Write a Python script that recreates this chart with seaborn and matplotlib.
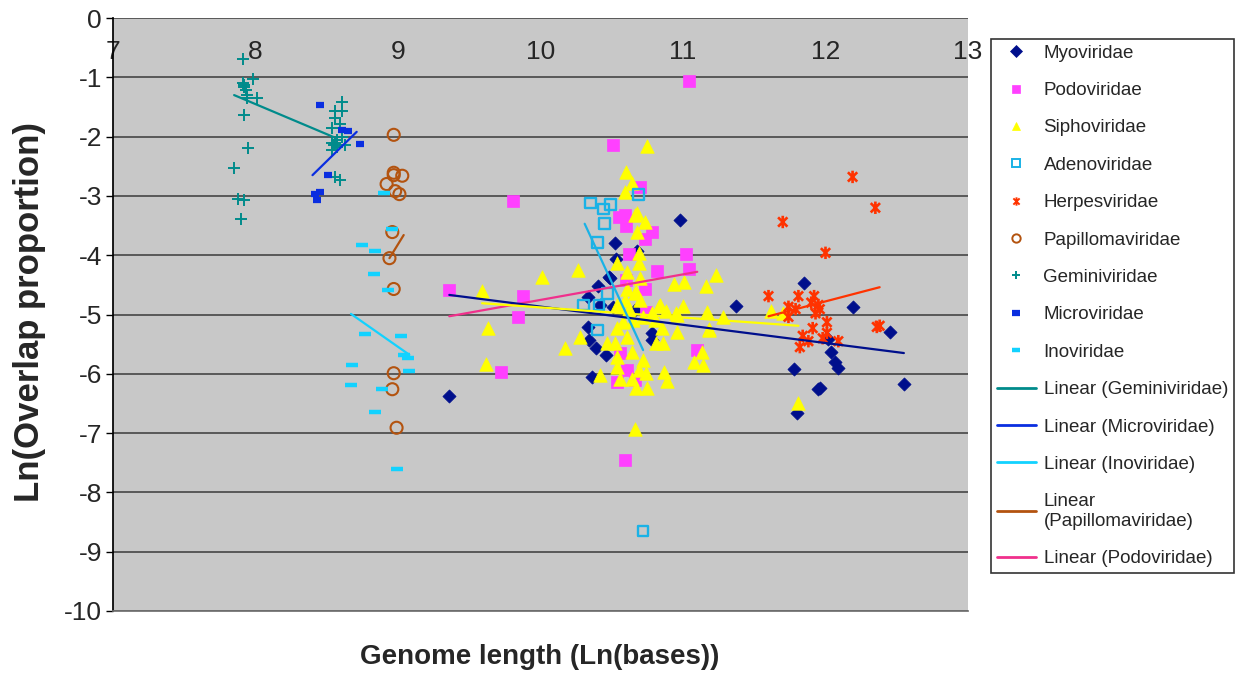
import numpy as np
import pandas as pd
import matplotlib
matplotlib.use("Agg")
import matplotlib.pyplot as plt
from matplotlib.lines import Line2D
from matplotlib.path import Path
import seaborn as sns

# ---- data (x = Ln(bases), y = Ln(overlap proportion)) ----
myo_x = [9.36, 10.40, 10.48, 10.33, 10.42, 10.51, 10.33, 10.34, 10.39, 10.46, 10.36, 10.98, 10.52,
         10.53, 10.49, 10.68, 10.78, 10.78, 10.66, 11.85, 11.37, 12.19, 12.45, 12.02, 12.04, 12.07,
         12.09, 11.78, 11.96, 11.95, 12.55, 11.80]
myo_y = [-6.37, -4.52, -4.37, -4.70, -4.84, -4.88, -5.21, -5.43, -5.57, -5.68, -6.05, -3.41, -3.80,
         -4.06, -4.39, -3.93, -5.31, -5.43, -4.92, -4.47, -4.86, -4.87, -5.30, -5.41, -5.63, -5.80,
         -5.91, -5.92, -6.24, -6.26, -6.17, -6.66]

podo_x = [11.04, 10.51, 9.81, 10.70, 10.59, 10.55, 10.60, 10.78, 10.73, 10.62, 11.02, 11.04, 10.82,
          10.60, 10.73, 9.88, 9.36, 9.84, 9.72, 10.74, 10.56, 10.61, 10.54, 10.66, 11.10, 10.59]
podo_y = [-1.07, -2.14, -3.08, -2.85, -3.32, -3.36, -3.51, -3.61, -3.73, -3.98, -3.98, -4.23, -4.27,
          -4.42, -4.57, -4.69, -4.59, -5.04, -5.97, -4.96, -5.65, -5.94, -6.13, -6.10, -5.60, -7.45]

sipho_x = [10.75, 10.60, 10.64, 10.59, 10.66, 10.68, 10.73, 10.68, 10.69, 10.54, 10.69, 10.61, 10.26,
           10.01, 10.70, 11.23, 10.94, 11.01, 11.16, 10.61, 10.67, 9.59, 9.63, 10.28, 10.17, 9.62,
           10.42, 10.54, 10.47, 10.52, 10.61, 10.54, 10.54, 10.64, 10.72, 10.69, 10.74, 10.56, 10.64,
           10.67, 10.75, 10.87, 10.89, 10.85, 10.81, 10.86, 10.66, 10.83, 10.88, 10.95, 11.00, 10.96,
           11.13, 11.08, 11.14, 11.17, 11.28, 11.18, 10.59, 10.66, 10.54, 10.62, 10.70, 10.72, 10.65,
           10.58, 11.62, 11.70, 11.81, 10.78, 10.80, 10.84, 10.96, 11.18]
sipho_y = [-2.16, -2.60, -2.78, -2.94, -3.32, -3.29, -3.44, -3.61, -3.96, -4.13, -4.13, -4.28, -4.25,
           -4.37, -4.39, -4.33, -4.49, -4.45, -4.52, -4.57, -4.62, -4.60, -5.22, -5.38, -5.57, -5.84,
           -6.02, -5.23, -5.48, -5.48, -5.38, -5.72, -5.89, -5.63, -5.77, -5.94, -5.99, -6.09, -6.09,
           -6.24, -6.24, -5.97, -6.12, -5.23, -5.48, -5.48, -6.93, -4.86, -4.94, -4.98, -4.86, -5.30,
           -5.63, -5.80, -5.85, -4.96, -5.04, -5.24, -4.76, -4.64, -4.84, -4.90, -4.75, -5.05, -5.10,
           -5.12, -4.94, -4.98, -6.49, -4.98, -5.10, -4.84, -5.00, -5.26]

adeno_x = [10.69, 10.35, 10.44, 10.49, 10.45, 10.40, 10.47, 10.30, 10.41, 10.40, 10.72]
adeno_y = [-2.97, -3.12, -3.22, -3.14, -3.47, -3.78, -4.64, -4.84, -4.84, -5.26, -8.65]

herpes_x = [12.19, 12.35, 11.70, 12.00, 11.60, 11.81, 11.92, 11.90, 11.74, 11.79, 11.95, 11.96, 11.93,
            11.74, 12.01, 11.91, 12.01, 11.84, 11.98, 12.09, 11.88, 11.82, 12.36, 12.38]
herpes_y = [-2.68, -3.20, -3.44, -3.96, -4.69, -4.69, -4.69, -4.80, -4.87, -4.91, -4.84, -4.91, -4.98,
            -5.04, -5.13, -5.23, -5.31, -5.36, -5.40, -5.45, -5.45, -5.55, -5.21, -5.19]

papil_x = [8.97, 8.97, 9.03, 8.97, 8.92, 8.98, 9.01, 8.96, 8.94, 8.97, 8.97, 8.96, 8.99]
papil_y = [-1.97, -2.65, -2.66, -2.61, -2.80, -2.92, -2.97, -3.61, -4.05, -4.57, -5.99, -6.26, -6.91]

gemini_x = [7.91, 7.98, 7.91, 7.92, 7.93, 7.94, 7.92, 8.01, 7.94, 7.92, 7.95, 7.85, 7.88, 7.92, 7.90,
            8.61, 8.56, 8.61, 8.56, 8.59, 8.54, 8.61, 8.54, 8.57, 8.63, 8.56, 8.55, 8.57, 8.54,
            8.56, 8.59]
gemini_y = [-0.69, -1.03, -1.10, -1.16, -1.21, -1.30, -1.13, -1.35, -1.35, -1.64, -2.19, -2.53, -3.05,
            -3.07, -3.39, -1.42, -1.57, -1.57, -1.69, -1.78, -1.86, -2.00, -2.11, -2.17, -2.14, -2.10,
            -2.14, -2.05, -2.23, -2.68, -2.73]

micro_x = [8.45, 8.61, 8.65, 8.73, 8.51, 8.42, 8.45, 8.43]
micro_y = [-1.47, -1.89, -1.90, -2.12, -2.65, -2.97, -2.93, -3.07]

ino_x = [8.90, 8.96, 8.75, 8.84, 8.83, 8.93, 8.77, 9.02, 9.04, 9.07, 9.08, 8.68, 8.67, 8.89, 8.84, 8.99]
ino_y = [-2.95, -3.56, -3.83, -3.93, -4.32, -4.59, -5.33, -5.36, -5.68, -5.73, -5.95, -5.85, -6.19,
         -6.26, -6.65, -7.61]

# trendline end points (x0, x1) / (y0, y1) as drawn in the reference
trend_gemini = ([7.85, 8.56], [-1.30, -2.02])
trend_micro = ([8.40, 8.71], [-2.65, -1.92])
trend_ino = ([8.67, 9.08], [-4.99, -5.68])
trend_papil = ([8.94, 9.04], [-4.05, -3.66])
trend_podo = ([9.36, 11.10], [-5.03, -4.28])
trend_myo = ([9.36, 12.55], [-4.67, -5.65])
trend_sipho = ([9.59, 11.81], [-4.81, -5.19])
trend_adeno = ([10.31, 10.72], [-3.47, -5.60])
trend_herpes = ([11.60, 12.38], [-5.03, -4.54])

# ---- figure ----
sns.set_theme(style="white")
plt.rcParams['font.family'] = ['Liberation Sans', 'DejaVu Sans']
plt.rcParams['axes.unicode_minus'] = False

fig = plt.figure(figsize=(12.43, 6.76), dpi=100)
ax = fig.add_axes([113 / 1243, 1 - 611 / 676, (968 - 113) / 1243, (611 - 18) / 676])
ax.set_facecolor('#c8c8c8')

# Excel-style star: vertical bar plus an x
star = Path([(0, -1), (0, 1), (-0.75, -0.75), (0.75, 0.75), (-0.75, 0.75), (0.75, -0.75)],
            [Path.MOVETO, Path.LINETO, Path.MOVETO, Path.LINETO, Path.MOVETO, Path.LINETO])

# scatter series: (name, x, y, marker, face, edge, size, lw)
series = [
    ("Myoviridae", myo_x, myo_y, 'D', '#000f8c', '#000f8c', 45, 0.5),
    ("Podoviridae", podo_x, podo_y, 's', '#ff40ff', '#ff40ff', 70, 0.5),
    ("Siphoviridae", sipho_x, sipho_y, '^', '#ffff00', '#ffff00', 95, 0.5),
    ("Adenoviridae", adeno_x, adeno_y, 's', 'none', '#1ab2e6', 60, 1.7),
    ("Herpesviridae", herpes_x, herpes_y, star, 'none', '#ff3300', 80, 1.9),
    ("Papillomaviridae", papil_x, papil_y, 'o', 'none', '#b3530f', 75, 1.5),
    ("Geminiviridae", gemini_x, gemini_y, '+', '#008b8b', '#008b8b', 80, 1.4),
    ("Microviridae", micro_x, micro_y, '_', '#0a2ee0', '#0a2ee0', 30, 4.5),
    ("Inoviridae", ino_x, ino_y, '_', '#12d2ff', '#12d2ff', 80, 3.2),
]

handles = []
for name, xs, ys, mk, fc, ec, s, lw in series:
    df = pd.DataFrame({'x': xs, 'y': ys})
    sns.scatterplot(data=df, x='x', y='y', ax=ax, marker=mk, s=s, color=ec,
                    facecolors=fc, edgecolors=ec, linewidths=lw, legend=False, zorder=3)
    handles.append(Line2D([], [], ls='none', marker=mk, markersize=6,
                          markerfacecolor=fc, markeredgecolor=ec,
                          markeredgewidth=lw if mk == '_' else min(lw, 1.4),
                          label=name))

trends = [
    ("Linear (Geminiviridae)", trend_gemini, '#008b8b', True),
    ("Linear (Microviridae)", trend_micro, '#0a2ee0', True),
    ("Linear (Inoviridae)", trend_ino, '#12d2ff', True),
    ("Linear\n(Papillomaviridae)", trend_papil, '#b3530f', True),
    ("Linear (Podoviridae)", trend_podo, '#f0308c', True),
    ("Linear (Myoviridae)", trend_myo, '#000f8c', False),
    ("Linear (Siphoviridae)", trend_sipho, '#ffff00', False),
    ("Linear (Adenoviridae)", trend_adeno, '#1ab2e6', False),
    ("Linear (Herpesviridae)", trend_herpes, '#ff3300', False),
]
for name, (tx, ty), col, in_legend in trends:
    sns.lineplot(x=tx, y=ty, ax=ax, color=col, lw=1.6, zorder=4, legend=False)
    if in_legend:
        handles.append(Line2D([], [], color=col, lw=2, label=name))

# axes
ax.set_xlim(7, 13)
ax.set_ylim(-10, 0)
ax.set_yticks(np.arange(-10, 1, 1))
ax.set_xticks(np.arange(7, 14, 1))
ax.yaxis.grid(True, color='#505050', lw=1.3)
ax.xaxis.grid(False)
ax.set_axisbelow(True)
ax.xaxis.set_ticks_position('top')
ax.tick_params(axis='x', length=0, labelsize=19, pad=-33)
ax.tick_params(axis='y', length=5, width=1, color='black', left=True, labelsize=19, pad=3)
for side in ['top', 'right']:
    ax.spines[side].set_visible(False)
ax.spines['left'].set_color('black')
ax.spines['bottom'].set_color('#707070')

ax.set_xlabel('')
ax.set_ylabel('')
fig.text(540 / 1243, 1 - 657 / 676, 'Genome length (Ln(bases))', ha='center', va='center',
         fontsize=20, fontweight='bold')
fig.text(30 / 1243, 1 - 312 / 676, 'Ln(Overlap proportion)', ha='center', va='center',
         rotation=90, fontsize=25, fontweight='bold')

leg = fig.legend(handles=handles, loc='upper left', bbox_to_anchor=(991 / 1243, 1 - 39 / 676),
                 borderaxespad=0, fontsize=13.5, frameon=True, fancybox=False, edgecolor='black',
                 labelspacing=1.08, handlelength=2.1, handletextpad=0.4, borderpad=0.3)
leg.get_frame().set_linewidth(1.2)

fig.savefig('out.png', dpi=100)
